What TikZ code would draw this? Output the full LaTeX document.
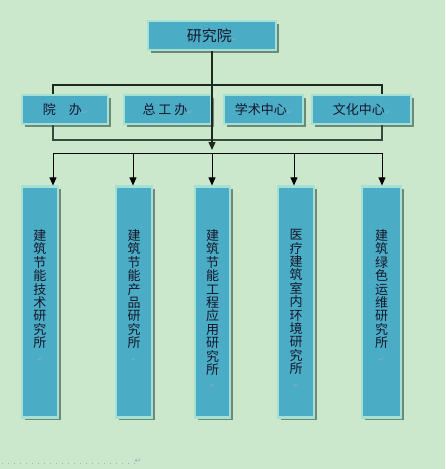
\documentclass[tikz,border=0pt]{standalone}
\usepackage{fontspec}
\newfontfamily\cjk{Noto Sans CJK SC}
\newfontfamily\dvfont{DejaVu Sans}
\usetikzlibrary{arrows.meta,shadows}
\definecolor{bgc}{RGB}{204,232,204}
\definecolor{boxblue}{RGB}{75,172,198}
\definecolor{boxedge}{RGB}{164,224,212}
\definecolor{shadowc}{RGB}{108,138,118}
\definecolor{txtc}{RGB}{22,22,40}
\definecolor{markc}{RGB}{150,178,190}
\definecolor{linec}{RGB}{30,40,30}
\definecolor{line2c}{RGB}{52,74,58}
\newcommand\parmk{{\dvfont\fontsize{6}{6}\selectfont\color{markc}↵}}
\newcommand\vtext[1]{\parbox[c][225pt][t]{20pt}{\centering\vspace*{40pt}#1}}
\tikzset{
  box/.style={fill=boxblue, draw=boxedge, line width=2.2pt, inner sep=0pt,
    text=txtc, font=\cjk\fontsize{13}{13.4}\selectfont,
    drop shadow={shadow xshift=2.6pt, shadow yshift=-2.8pt, fill=shadowc, opacity=1}},
  bar/.style={box, minimum height=231pt},
  l1/.style={draw=linec, line width=1.3pt},
  l2/.style={draw=line2c, line width=1.8pt},
  l3/.style={draw=black, line width=1pt},
  arr/.style={-{Triangle[width=7pt,length=8pt]}},
}
\begin{document}
\begin{tikzpicture}[x=1pt,y=-1pt]
\fill[bgc] (0,0) rectangle (445,469);
\useasboundingbox (0,0) rectangle (445,469);

% top
\node[box, minimum width=128pt, minimum height=29pt, font=\cjk\fontsize{15}{16}\selectfont] (top) at (212,35.5) {研究院\parmk};

% middle row
\node[box, minimum width=86pt, minimum height=29pt] (yb) at (65,109.5) {院\quad 办\parmk};
\node[box, minimum width=87pt, minimum height=29pt] (zg) at (167.5,109.5) {总\ 工\ 办\parmk};
\node[box, minimum width=79pt, minimum height=29pt] (xs) at (263.5,109.5) {学术中心\parmk};
\node[box, minimum width=99pt, minimum height=29pt] (wh) at (361.5,109.5) {文化中心\parmk};

% bars
\node[bar, minimum width=36pt] (b1) at (40,302) {\vtext{建\\筑\\节\\能\\技\\术\\研\\究\\所\\\parmk}};
\node[bar, minimum width=36pt] (b2) at (134,302) {\vtext{建\\筑\\节\\能\\产\\品\\研\\究\\所\\\parmk}};
\node[bar, minimum width=35pt] (b3) at (212.5,302) {\vtext{建\\筑\\节\\能\\工\\程\\应\\用\\研\\究\\所\\\parmk}};
\node[bar, minimum width=36pt] (b4) at (296,302) {\vtext{医\\疗\\建\\筑\\室\\内\\环\\境\\研\\究\\所\\\parmk}};
\node[bar, minimum width=39pt] (b5) at (381.5,302) {\vtext{建\\筑\\绿\\色\\运\\维\\研\\究\\所\\\parmk}};

% upper connector
\coordinate (hL) at (53,85);
\coordinate (hR) at (382,85);
\draw[l1] (yb.north -| hL) -- (hL) -- (hR) -- (wh.north -| hR);

% middle connector
\coordinate (mL) at (53,140);
\coordinate (mR) at (382,140);
\draw[l2] (yb.south -| mL) -- (mL) -- (mR) -- (wh.south -| mR);

% central line
\coordinate (cA) at (212,150);
\draw[l1, arr] (top.south) -- (cA);

% lower distribution
\coordinate (bL) at (53,153);
\coordinate (bR) at (382,153);
\coordinate (x2) at (133,153);
\coordinate (x3) at (212,153);
\coordinate (x4) at (294,153);
\draw[l3] (bL) -- (bR);
\draw[l3, arr] (bL) -- (b1.north -| bL);
\draw[l3, arr] (x2) -- (b2.north -| x2);
\draw[l3, arr] (x3) -- (b3.north -| x3);
\draw[l3, arr] (x4) -- (b4.north -| x4);
\draw[l3, arr] (bR) -- (b5.north -| bR);

% trailing paragraph line
\coordinate (dA) at (2,463);
\node[inner sep=0pt, font=\dvfont\fontsize{8}{8}\selectfont, text=markc] (endmk) at (138,461) {↵};
\draw[draw=markc, line width=0.9pt, dash pattern=on 0.9pt off 5.1pt] (dA) -- (endmk.west |- dA);
\end{tikzpicture}
\end{document}
